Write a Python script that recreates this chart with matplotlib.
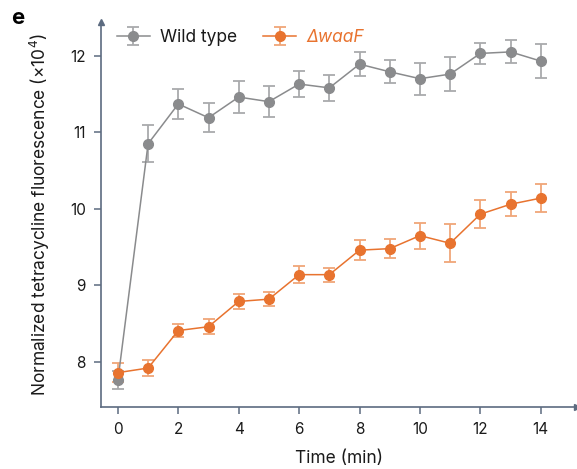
import matplotlib
matplotlib.use("Agg")
import matplotlib.pyplot as plt

plt.rcParams['font.family'] = ['Inter', 'DejaVu Sans']

time = [0, 1, 2, 3, 4, 5, 6, 7, 8, 9, 10, 11, 12, 13, 14]
wt_mean = [7.76, 10.85, 11.37, 11.19, 11.46, 11.40, 11.63, 11.58, 11.89, 11.79, 11.70, 11.76, 12.03, 12.05, 11.93]
wt_err = [0.12, 0.24, 0.20, 0.19, 0.21, 0.20, 0.17, 0.17, 0.16, 0.15, 0.21, 0.22, 0.14, 0.15, 0.22]
mut_mean = [7.86, 7.92, 8.41, 8.46, 8.79, 8.82, 9.14, 9.14, 9.46, 9.48, 9.65, 9.55, 9.93, 10.06, 10.14]
mut_err = [0.12, 0.10, 0.08, 0.10, 0.10, 0.09, 0.11, 0.09, 0.13, 0.12, 0.17, 0.25, 0.18, 0.16, 0.18]
xticks = [0, 2, 4, 6, 8, 10, 12, 14]
yticks = [8, 9, 10, 11, 12]

gray = '#8a8b8d'
gray_err = '#a9aaac'
orange = '#e8732f'
orange_err = '#f0a678'
spine = '#5c6b80'

fig = plt.figure(figsize=(5.77, 4.69), dpi=100)
ax = fig.add_axes([0.175, 0.132, 0.825, 0.821])

for m, e, c, ce, lab in [(wt_mean, wt_err, gray, gray_err, 'Wild type'),
                         (mut_mean, mut_err, orange, orange_err, 'ΔwaaF')]:
    ax.errorbar(time, m, yerr=e, color=c, ecolor=ce, elinewidth=1.3, capsize=4.5,
                capthick=1.3, marker='o', markersize=7, lw=1.1, label=lab, zorder=3)

ax.set_xlim(-0.56, 15.2)
ax.set_ylim(7.41, 12.44)
ax.set_xticks(xticks)
ax.set_yticks(yticks)
for s in ['top', 'right']:
    ax.spines[s].set_visible(False)
for s in ['left', 'bottom']:
    ax.spines[s].set_color(spine)
    ax.spines[s].set_linewidth(1.2)
ax.tick_params(colors=spine, length=5, width=1.1, labelsize=11, labelcolor='#1a1a1a', pad=6)

ax.plot(1, 0, '>', color=spine, markersize=5, transform=ax.transAxes, clip_on=False)
ax.plot(0, 1, '^', color=spine, markersize=5, transform=ax.transAxes, clip_on=False)

ax.set_xlabel('Time (min)', fontsize=12.5, color='#1a1a1a', labelpad=9)
ax.set_ylabel('Normalized tetracycline fluorescence (×10$^4$)', fontsize=12.5,
              color='#1a1a1a', labelpad=13)

leg = ax.legend(loc='upper left', ncol=2, frameon=False, fontsize=12.5,
                bbox_to_anchor=(0.0, 1.022), handlelength=1.9, columnspacing=1.5,
                handletextpad=0.6)
texts = leg.get_texts()
texts[0].set_color('#1a1a1a')
texts[1].set_color(orange)
texts[1].set_style('italic')

fig.text(0.02, 0.962, 'e', fontsize=16, fontweight='bold', va='center', ha='left')

fig.savefig('out.png', dpi=100)
